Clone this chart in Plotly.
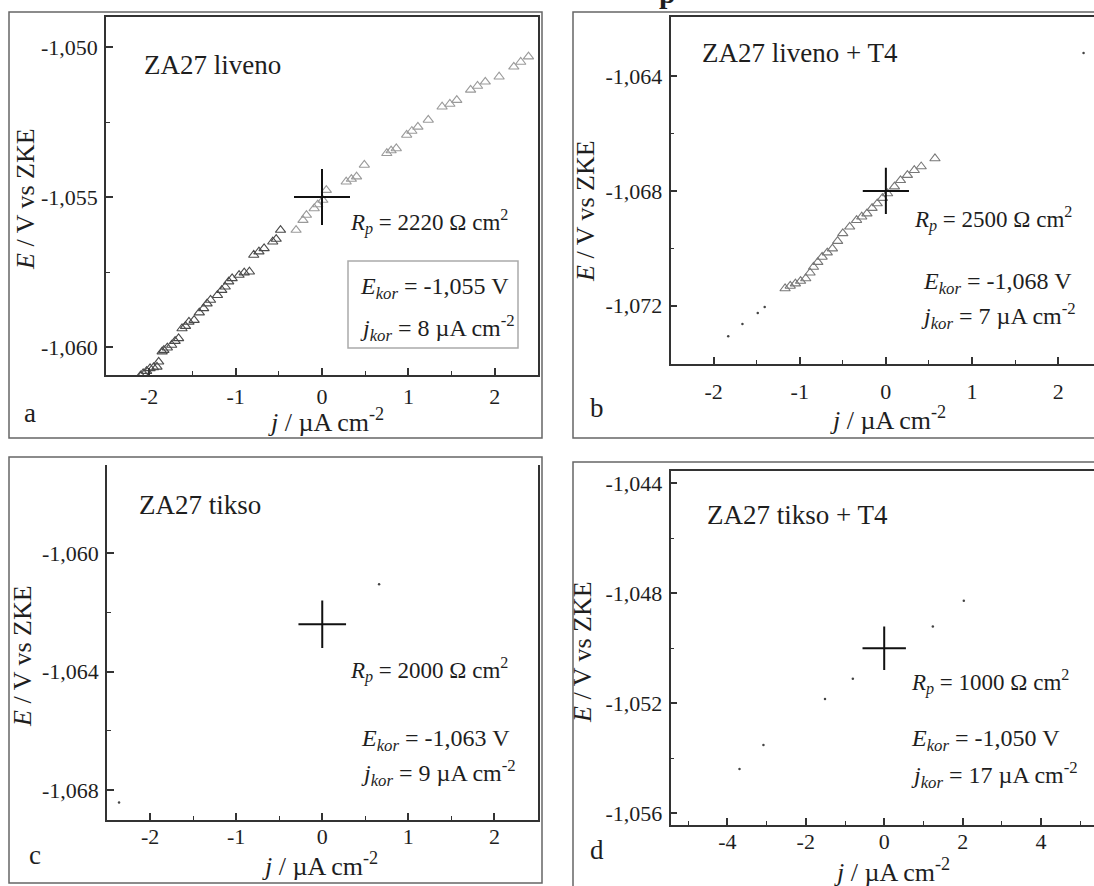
import plotly.graph_objects as go

W, H = 1094, 886
FONT = "Liberation Serif"
TXT = "#1e1e1e"

# ---------------- data ----------------
# panel a: ZA27 liveno
a_j = [-2.10, -2.07, -2.03, -1.99, -1.95, -1.91, -1.89, -1.85, -1.83, -1.79,
       -1.74, -1.70, -1.66, -1.62, -1.58, -1.54, -1.48, -1.42, -1.37, -1.33,
       -1.29, -1.21, -1.16, -1.12, -1.08, -1.04, -0.96, -0.90, -0.84, -0.79,
       -0.73, -0.67, -0.57, -0.53, -0.48, -0.30, -0.22, -0.18, -0.09, -0.05,
       0.01, 0.05, 0.28, 0.34, 0.40, 0.49, 0.75, 0.80, 0.86, 0.98,
       1.04, 1.11, 1.23, 1.39, 1.48, 1.56, 1.72, 1.80, 1.89, 2.05,
       2.22, 2.30, 2.39]
a_E = [-1.06095, -1.06088, -1.06080, -1.06071, -1.06068, -1.06066, -1.06049, -1.06015, -1.06010, -1.06002,
       -1.05993, -1.05980, -1.05971, -1.05938, -1.05930, -1.05916, -1.05910, -1.05885, -1.05871, -1.05855,
       -1.05843, -1.05827, -1.05810, -1.05799, -1.05782, -1.05771, -1.05760, -1.05752, -1.05749, -1.05693,
       -1.05682, -1.05671, -1.05649, -1.05640, -1.05610, -1.05610, -1.05577, -1.05560, -1.05538, -1.05525,
       -1.05510, -1.05477, -1.05449, -1.05440, -1.05432, -1.05393, -1.05354, -1.05345, -1.05338, -1.05293,
       -1.05280, -1.05266, -1.05243, -1.05199, -1.05190, -1.05177, -1.05143, -1.05130, -1.05116, -1.05099,
       -1.05066, -1.05050, -1.05032]

# panel b: ZA27 liveno + T4
b_j = [-1.17, -1.11, -1.05, -0.99, -0.93, -0.88, -0.84, -0.79, -0.74, -0.68,
       -0.62, -0.56, -0.50, -0.42, -0.34, -0.28, -0.22, -0.16, -0.10, -0.04,
       0.02, 0.10, 0.17, 0.25, 0.33, 0.41, 0.57]
b_E = [-1.07140, -1.07131, -1.07123, -1.07114, -1.07105, -1.07085, -1.07065, -1.07048, -1.07030, -1.07015,
       -1.07001, -1.06975, -1.06948, -1.06925, -1.06902, -1.06890, -1.06879, -1.06860, -1.06844, -1.06825,
       -1.06809, -1.06785, -1.06763, -1.06745, -1.06728, -1.06715, -1.06687]
b_dots_j = [-1.83, -1.665, -1.487, -1.407, 2.295]
b_dots_E = [-1.07306, -1.07264, -1.07225, -1.07204, -1.06319]

# panel c: ZA27 tikso
c_dots_j = [0.66, -2.36]
c_dots_E = [-1.06105, -1.06842]

# panel d: ZA27 tikso + T4
d_dots_j = [2.03, 1.24, -0.80, -1.51, -3.08, -3.69]
d_dots_E = [-1.04827, -1.04921, -1.05111, -1.05185, -1.05352, -1.05439]

# corrosion point (cross) of each panel
cross_j = [0.0, 0.0, 0.0, 0.0]
cross_E = [-1.0550, -1.0680, -1.0624, -1.0500]

panel_titles = ["ZA27 liveno", "ZA27 liveno + T4", "ZA27 tikso", "ZA27 tikso + T4"]
panel_letters = ["a", "b", "c", "d"]
Rp_values = ["2220", "2500", "2000", "1000"]
Ekor_values = ["-1,055", "-1,068", "-1,063", "-1,050"]
jkor_values = ["8", "7", "9", "17"]

# tick values / labels
xa_ticks = [-2, -1, 0, 1, 2]
xa_text = ["-2", "-1", "0", "1", "2"]
xa_minor = [-1.5, -0.5, 0.5, 1.5]
xd_ticks = [-4, -2, 0, 2, 4]
xd_text = ["-4", "-2", "0", "2", "4"]
xd_minor = [-5, -3, -1, 1, 3, 5]
ya_ticks = [-1.060, -1.055, -1.050]
ya_text = ["-1,060", "-1,055", "-1,050"]
ya_minor = [-1.0575, -1.0525]
yb_ticks = [-1.072, -1.068, -1.064]
yb_text = ["-1,072", "-1,068", "-1,064"]
yb_minor = [-1.070, -1.066]
yc_ticks = [-1.068, -1.064, -1.060]
yc_text = ["-1,068", "-1,064", "-1,060"]
yc_minor = [-1.066, -1.062]
yd_ticks = [-1.056, -1.052, -1.048, -1.044]
yd_text = ["-1,056", "-1,052", "-1,048", "-1,044"]
yd_minor = [-1.054, -1.050, -1.046]

# ---------------- helpers ----------------
def px(x):
    return x / W

def py(y):
    return 1 - y / H

fig = go.Figure()

# ---------------- traces ----------------
a_colors = ["#4a4a4a" if j < -0.35 else "#9a9a9a" for j in a_j]
fig.add_trace(go.Scatter(x=a_j, y=a_E, mode="markers", xaxis="x", yaxis="y",
                         marker=dict(symbol="triangle-up-open", size=9,
                                     color=a_colors, line=dict(width=1.1, color=a_colors)),
                         showlegend=False))
fig.add_trace(go.Scatter(x=b_j, y=b_E, mode="markers", xaxis="x2", yaxis="y2",
                         marker=dict(symbol="triangle-up-open", size=9, color="#777",
                                     line=dict(width=1.1, color="#777")),
                         showlegend=False))
fig.add_trace(go.Scatter(x=b_dots_j, y=b_dots_E, mode="markers", xaxis="x2", yaxis="y2",
                         marker=dict(size=2.5, color="#444"), showlegend=False))
fig.add_trace(go.Scatter(x=c_dots_j, y=c_dots_E, mode="markers", xaxis="x3", yaxis="y3",
                         marker=dict(size=2.5, color="#444"), showlegend=False))
fig.add_trace(go.Scatter(x=d_dots_j, y=d_dots_E, mode="markers", xaxis="x4", yaxis="y4",
                         marker=dict(size=2.5, color="#444"), showlegend=False))

cross_sizes = [40, 33, 34, 31]
axes_ids = [("x", "y"), ("x2", "y2"), ("x3", "y3"), ("x4", "y4")]
for k in range(4):
    fig.add_trace(go.Scatter(x=[cross_j[k]], y=[cross_E[k]], mode="markers",
                             xaxis=axes_ids[k][0], yaxis=axes_ids[k][1],
                             marker=dict(symbol="cross-thin", size=cross_sizes[k],
                                         color="black", line=dict(width=2, color="#111")),
                             showlegend=False))

# ---------------- axes ----------------
def axis(domain, rng, tv, tt, minor, mirror, anchor, standoff):
    return dict(domain=domain, range=rng, tickmode="array", tickvals=tv, ticktext=tt,
                showline=True, linecolor="#333", linewidth=1.5, mirror=mirror,
                ticks="inside", ticklen=7, tickwidth=1.5, tickcolor="#333",
                showgrid=False, zeroline=False, anchor=anchor,
                ticklabelstandoff=standoff,
                tickfont=dict(family=FONT, size=22, color=TXT),
                minor=dict(tickmode="array", tickvals=minor, ticks="inside",
                           ticklen=4, tickwidth=1.2, tickcolor="#333", showgrid=False))

layout = dict(
    width=W, height=H, margin=dict(l=0, r=0, t=0, b=0),
    paper_bgcolor="white", plot_bgcolor="white", showlegend=False,
    font=dict(family=FONT, color=TXT),
)
layout["xaxis"] = axis([px(106), px(538)], [-2.5, 2.5], xa_ticks, xa_text, xa_minor, True, "y", 1)
layout["yaxis"] = axis([py(375), py(17)], [-1.06093, -1.0490], ya_ticks, ya_text, ya_minor, True, "x", 2)
layout["xaxis2"] = axis([px(670.5), 1.0], [-2.5, 2.416], xa_ticks, xa_text, xa_minor, True, "y2", 7)
layout["yaxis2"] = axis([py(364), py(17)], [-1.07403, -1.06194], yb_ticks, yb_text, yb_minor, False, "x2", 2)
layout["xaxis3"] = axis([px(107), px(537.5)], [-2.5, 2.5], xa_ticks, xa_text, xa_minor, False, "y3", -4)
layout["yaxis3"] = axis([py(820), py(465)], [-1.06901, -1.05702], yc_ticks, yc_text, yc_minor, True, "x3", 2)
layout["xaxis4"] = axis([px(670.5), 1.0], [-5.45, 5.35], xd_ticks, xd_text, xd_minor, True, "y4", -4)
layout["yaxis4"] = axis([py(825), py(470.7)], [-1.05643, -1.04354], yd_ticks, yd_text, yd_minor, False, "x4", 2)

# ---------------- frames & boxes ----------------
shapes = []
frames = [(9, 12, 542, 438), (573, 12, 1110, 438), (9, 457, 542, 883), (573, 462, 1110, 900)]
for (x0, y0, x1, y1) in frames:
    shapes.append(dict(type="rect", xref="paper", yref="paper",
                       x0=px(x0), x1=px(x1), y0=py(y1), y1=py(y0),
                       line=dict(color="#666", width=1.5), fillcolor="rgba(0,0,0,0)"))
shapes.append(dict(type="rect", xref="paper", yref="paper",
                   x0=px(348), x1=px(518), y0=py(348), y1=py(261),
                   line=dict(color="#aaa", width=1.5), fillcolor="rgba(0,0,0,0)"))
layout["shapes"] = shapes

# ---------------- texts ----------------
ann = []

def txt(text, x, y, size, xanchor="left", yanchor="middle", angle=0, color=TXT):
    ann.append(dict(text=text, x=px(x), y=py(y), xref="paper", yref="paper",
                    xanchor=xanchor, yanchor=yanchor, showarrow=False, textangle=angle,
                    font=dict(family=FONT, size=size, color=color)))

title_pos = [(142, 65), (700, 53), (137, 505), (705, 515)]
rp_pos = [(348, 222), (912, 219), (348, 670), (909, 682)]
ek_pos = [(358, 288), (921, 283), (359, 740), (909, 740)]
jk_pos = [(358, 328), (919, 316), (359, 773), (909, 775)]
letter_pos = [(30, 413), (597, 408), (35, 855), (597, 850)]
ytitle_pos = [(25, 199), (585, 211), (22, 656), (582, 652)]
xtitle_pos = [(326, 420), (888, 418), (320, 864), (892, 870)]

for k in range(4):
    txt(panel_titles[k], *title_pos[k], 27)
    txt("<i>R</i><sub><i>p</i></sub> = %s Ω cm<sup>2</sup>" % Rp_values[k], *rp_pos[k], 23)
    txt("<i>E</i><sub><i>kor</i></sub> = %s V" % Ekor_values[k], *ek_pos[k], 24)
    txt("<i>j</i><sub><i>kor</i></sub> = %s µA cm<sup>-2</sup>" % jkor_values[k], *jk_pos[k], 24)
    txt(panel_letters[k], *letter_pos[k], 27, xanchor="center")
    txt("<i>E</i> / V vs ZKE", *ytitle_pos[k], 26, xanchor="center", angle=-90)
    txt("<i>j</i> / µA cm<sup>-2</sup>", *xtitle_pos[k], 26, xanchor="center")

# cropped caption letter at the very top
txt("<b>p</b>", 667, 11, 30, xanchor="center", yanchor="bottom")

layout["annotations"] = ann
fig.update_layout(**layout)

fig.write_html("out.html", config={"displayModeBar": False},
               post_script="document.body.style.margin='0';document.body.style.overflow='hidden';")
